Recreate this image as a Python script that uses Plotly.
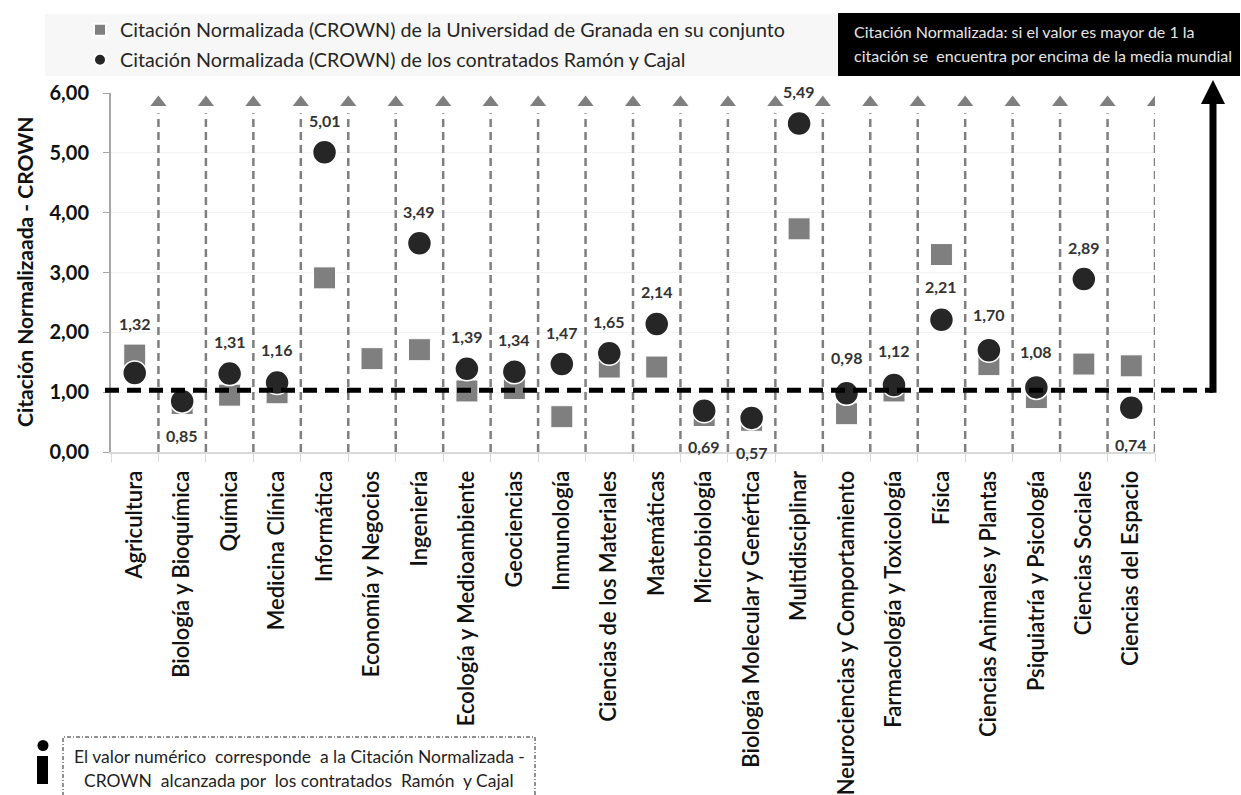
import plotly.graph_objects as go

categories = ["Agricultura", "Biología y Bioquímica", "Química", "Medicina Clínica", "Informática",
              "Economía y Negocios", "Ingeniería", "Ecología y Medioambiente", "Geociencias", "Inmunología",
              "Ciencias de los Materiales", "Matemáticas", "Microbiología", "Biología Molecular y Genértica",
              "Multidisciplinar", "Neurociencias y Comportamiento", "Farmacología y Toxicología", "Física",
              "Ciencias Animales y Plantas", "Psiquiatría y Psicología", "Ciencias Sociales", "Ciencias del Espacio"]
granada = [1.62, 0.81, 0.95, 0.99, 2.91, 1.56, 1.71, 1.02, 1.06, 0.59, 1.42, 1.42, 0.61, 0.53,
           3.73, 0.64, 1.02, 3.30, 1.46, 0.91, 1.47, 1.44]
ramon_cajal = [1.32, 0.85, 1.31, 1.16, 5.01, None, 3.49, 1.39, 1.34, 1.47, 1.65, 2.14, 0.69, 0.57,
               5.49, 0.98, 1.12, 2.21, 1.70, 1.08, 2.89, 0.74]
y_ticks = [0, 1, 2, 3, 4, 5, 6]
world_reference = 1.03

legend_names = ["Citación Normalizada (CROWN) de la Universidad de Granada en su conjunto",
                "Citación Normalizada (CROWN) de los contratados Ramón y Cajal"]

# Layout (pixels)
W, H = 1241, 795
L, R, T, B = 111, 1155, 93, 452
FONT = "Lato"
INK = "#1f1f1f"


def px(x):
    return (x - L) / (R - L)


def py(y):
    return (B - y) / (B - T)


def data_y(v):
    return B - (B - T) * v / 6


n = len(categories)
xs = list(range(n))
boundaries = [i - 0.5 for i in range(n + 1)]
arrow_x = boundaries[1:]

fig = go.Figure()

# Dashed vertical guides with arrowheads
for bx in arrow_x:
    fig.add_trace(go.Scatter(x=[bx, bx], y=[0, 5.66], mode="lines", showlegend=False, hoverinfo="skip",
                             line=dict(color="#7f7f7f", width=2.5, dash="8px,5px")))
fig.add_trace(go.Scatter(x=arrow_x, y=[5.84] * len(arrow_x), mode="markers", showlegend=False, hoverinfo="skip",
                         marker=dict(symbol="triangle-up", size=14, color="#7f7f7f")))

fig.add_trace(go.Scatter(x=xs, y=granada, mode="markers", name=legend_names[0], legend="legend",
                         marker=dict(symbol="square", size=22, color="#7f7f7f",
                                     line=dict(color="#ffffff", width=1))))
fig.add_trace(go.Scatter(x=xs, y=ramon_cajal, mode="markers", name=legend_names[1], legend="legend2",
                         marker=dict(symbol="circle", size=24, color="#262626",
                                     line=dict(color="#ffffff", width=1.5))))

# Value labels: vertical distance from each point, in pixels
label_shift = {0: 50, 1: -34, 3: 33, 12: -36, 13: -35, 21: -37, 17: 33, 18: 36, 19: 36, 15: 36, 16: 34}
annotations = []
for i, v in enumerate(ramon_cajal):
    if v is None:
        continue
    annotations.append(dict(x=i, y=v, xref="x", yref="y", text=f"{v:.2f}".replace(".", ","), showarrow=False,
                            yshift=label_shift.get(i, 32), font=dict(family=FONT, size=16, color="#333333", weight=700)))

# Y axis title
annotations.append(dict(x=px(24), y=py(272), xref="paper", yref="paper", xanchor="center", yanchor="middle",
                        text="Citación Normalizaada - CROWN", textangle=-90, showarrow=False,
                        font=dict(family=FONT, size=21, color="#111111", weight=700)))

# Black note box text
for txt, yy in (("Citación Normalizada: si el valor es mayor de 1 la", 32),
                ("citación se  encuentra por encima de la media mundial", 55)):
    annotations.append(dict(x=px(854), y=py(yy), xref="paper", yref="paper", xanchor="left", yanchor="middle",
                            text=txt, showarrow=False, xshift=-2, font=dict(family=FONT, size=16, color="#e6e6e6")))
# Information note text
for txt, yy in (("El valor numérico  corresponde  a la Citación Normalizada -", 756),
                ("CROWN  alcanzada por  los contratados  Ramón  y Cajal", 780)):
    annotations.append(dict(x=px(299), y=py(yy), xref="paper", yref="paper", xanchor="center", yanchor="middle",
                            text=txt, showarrow=False, font=dict(family=FONT, size=17.5, color=INK)))


def paper_rect(x0, y0, x1, y1, **kw):
    return dict(type="rect", xref="paper", yref="paper", x0=px(x0), x1=px(x1), y0=py(y1), y1=py(y0), **kw)


ref_y = data_y(world_reference)
ax_px = 1213
shapes = [
    paper_rect(45, 14, 838, 76, fillcolor="#f7f7f7", line=dict(width=0), layer="below"),
    paper_rect(838, 13, 1240, 76, fillcolor="#000000", line=dict(width=0), layer="below"),
    # world reference line and the thick arrow
    dict(type="line", xref="paper", yref="paper", x0=px(105), x1=px(ax_px), y0=py(ref_y), y1=py(ref_y),
         line=dict(color="#000000", width=5, dash="14px,8px")),
    dict(type="line", xref="paper", yref="paper", x0=px(ax_px), x1=px(ax_px), y0=py(ref_y + 2.5), y1=py(102),
         line=dict(color="#000000", width=7)),
    dict(type="path", xref="paper", yref="paper", fillcolor="#000000", line=dict(width=0),
         path=f"M {px(1201)} {py(104)} L {px(1213)} {py(80)} L {px(1225)} {py(104)} Z"),
    # information icon and note frame
    dict(type="circle", xref="paper", yref="paper", x0=px(37.5), x1=px(48.5), y0=py(751), y1=py(740),
         fillcolor="#000000", line=dict(width=0)),
    paper_rect(37, 756, 48, 784, fillcolor="#000000", line=dict(width=0)),
    paper_rect(63, 737, 535, 800, fillcolor="rgba(0,0,0,0)", line=dict(color="#222222", width=1, dash="4px,2px,1px,2px")),
]

fig.update_layout(
    width=W, height=H, autosize=False,
    margin=dict(l=L, r=W - R, t=T, b=H - B, autoexpand=False),
    paper_bgcolor="#ffffff", plot_bgcolor="#ffffff",
    separators=",.",
    font=dict(family=FONT, color=INK),
    showlegend=True,
    legend=dict(x=px(80), y=py(30), xanchor="left", yanchor="middle", bgcolor="rgba(0,0,0,0)",
                font=dict(family=FONT, size=19.7, color="#262626"), itemsizing="constant"),
    legend2=dict(x=px(80), y=py(60), xanchor="left", yanchor="middle", bgcolor="rgba(0,0,0,0)",
                 font=dict(family=FONT, size=19.7, color="#262626"), itemsizing="constant"),
    xaxis=dict(range=[-0.5, n - 0.5], tickmode="array", tickvals=xs, ticktext=categories, tickangle=-90,
               ticks="", showgrid=False, zeroline=False, automargin=False, showline=True,
               linecolor="#d9d9d9", linewidth=2, ticklabelstandoff=8,
               tickfont=dict(family=FONT, size=22, color="#111111", weight=600),
               minor=dict(tickmode="array", tickvals=boundaries, ticks="outside", ticklen=8, tickwidth=1,
                          tickcolor="#d9d9d9", showgrid=False)),
    yaxis=dict(range=[0, 6], tickmode="array", tickvals=y_ticks, tickformat=".2f", ticks="outside", ticklen=6,
               tickcolor="#a6a6a6", showline=True, linecolor="#a6a6a6", linewidth=2, gridcolor="#f2f2f2",
               gridwidth=1, zeroline=False, automargin=False, ticklabelstandoff=10,
               tickfont=dict(family=FONT, size=20, color="#111111", weight=700)),
    shapes=shapes,
    annotations=annotations,
)

fig.write_html("out.html", config={"displayModeBar": False},
               post_script="document.body.style.margin='0';document.body.style.overflow='hidden';")
